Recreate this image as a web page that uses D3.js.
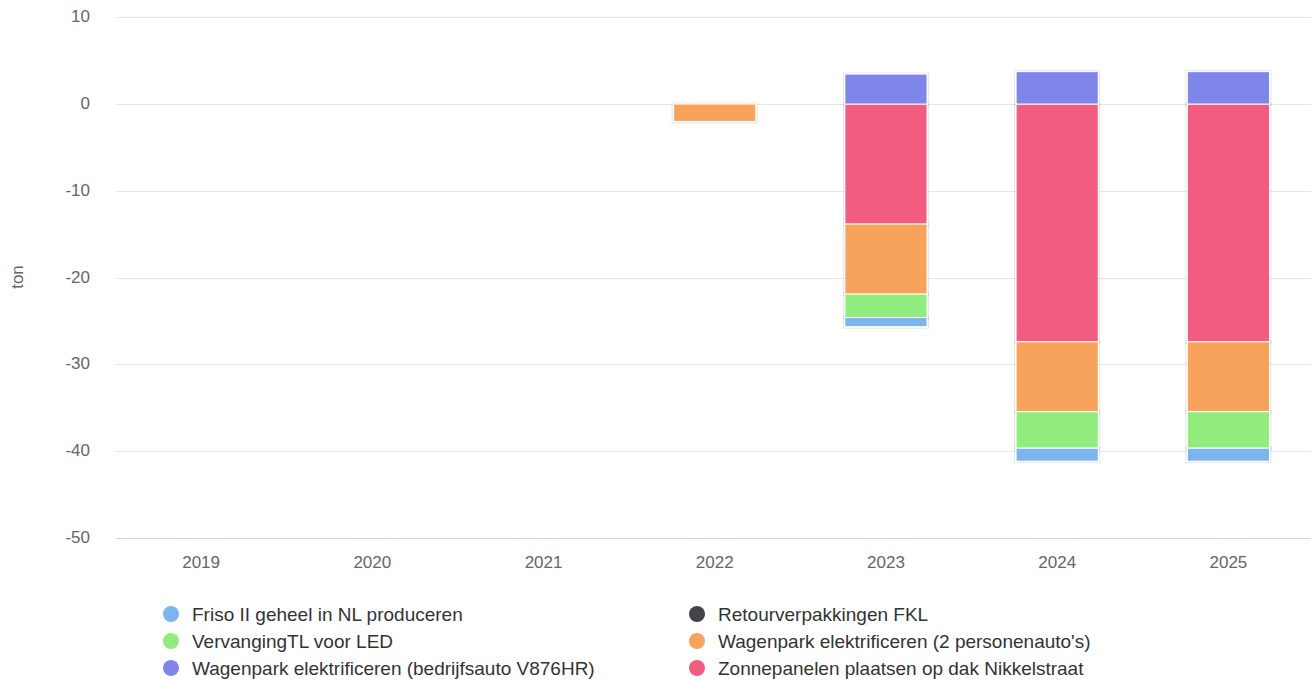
<!DOCTYPE html>
<html><head><meta charset="utf-8">
<script src="https://cdn.jsdelivr.net/npm/d3@7"></script>
<style>body{margin:0;background:#fff;}svg{display:block;font-family:"Liberation Sans",Arial,sans-serif;}</style>
</head><body>
<svg id="chart" width="1311" height="681"></svg>
<script>
const categories = ["2019","2020","2021","2022","2023","2024","2025"];
const seriesNames = ["Friso II geheel in NL produceren","Retourverpakkingen FKL","VervangingTL voor LED","Wagenpark elektrificeren (2 personenauto's)","Wagenpark elektrificeren (bedrijfsauto V876HR)","Zonnepanelen plaatsen op dak Nikkelstraat"];
const seriesColors = ["#7cb5ec","#434348","#90ed7d","#f7a35c","#8085e9","#f15c80"];
const friso = [0,0,0,0,-1.05,-1.5,-1.5];
const retour = [0,0,0,0,0,0,0];
const ledTL = [0,0,0,0,-2.7,-4.2,-4.2];
const wagen2 = [0,0,0,-2.0,-8.07,-8.05,-8.05];
const wagenBedrijf = [0,0,0,0,3.45,3.73,3.73];
const zonnepanelen = [0,0,0,0,-13.83,-27.4,-27.4];
const seriesValues = [friso, retour, ledTL, wagen2, wagenBedrijf, zonnepanelen];
const yTicks = [10,0,-10,-20,-30,-40,-50];

(function(){
const svg = d3.select("#chart");
const pLeft = 116, pRight = 1311, pTop = 17.25, pBottom = 538;
const x = d3.scaleBand().domain(categories).range([115.5,1314]).paddingInner(0).paddingOuter(0);
const y = d3.scaleLinear().domain([-50,10]).range([pBottom,pTop]);

// gridlines
svg.append("g").selectAll("line").data(yTicks.filter(t=>t!==-50)).join("line")
  .attr("x1",pLeft).attr("x2",pRight).attr("y1",d=>Math.round(y(d))+0.5).attr("y2",d=>Math.round(y(d))+0.5)
  .attr("stroke","#e6e6e6").attr("stroke-width",1);

// y axis labels
const yAxis = d3.axisLeft(y).tickValues(yTicks).tickSize(0).tickPadding(0).tickFormat(d=>String(d));
const ya = svg.append("g").attr("transform",`translate(${pLeft-26},-1)`).call(yAxis);
ya.select(".domain").remove();
ya.selectAll("text").attr("font-size",17).attr("fill","#666").attr("font-family","Liberation Sans, Arial, sans-serif");

// y title
svg.append("text").attr("transform","translate(23,277) rotate(-90)").attr("text-anchor","middle")
  .attr("font-size",17).attr("fill","#666").text("ton");

// stacking: later series closer to zero
const n = categories.length;
const bw = x.bandwidth()*0.6*0.8;
const bars = [];
for (let c=0;c<n;c++){
  let pos=0, neg=0;
  for (let s=seriesValues.length-1;s>=0;s--){
    const v = seriesValues[s][c];
    if (!v) continue;
    let y0,y1;
    if (v>0){y0=pos;y1=pos+v;pos=y1;} else {y0=neg;y1=neg+v;neg=y1;}
    bars.push({c:categories[c],s,y0,y1});
  }
}
const gBars = svg.append("g");
gBars.selectAll("rect.sh").data(bars).join("rect").attr("class","sh")
  .attr("x",d=>x(d.c)+(x.bandwidth()-bw)/2-1.5)
  .attr("y",d=>Math.min(y(d.y0),y(d.y1))-1)
  .attr("width",bw+3)
  .attr("height",d=>Math.abs(y(d.y0)-y(d.y1))+2.5)
  .attr("fill","none").attr("stroke","#000").attr("stroke-opacity",0.1).attr("stroke-width",1);
gBars.selectAll("rect.b").data(bars).join("rect").attr("class","b")
  .attr("x",d=>x(d.c)+(x.bandwidth()-bw)/2)
  .attr("y",d=>Math.min(y(d.y0),y(d.y1)))
  .attr("width",bw)
  .attr("height",d=>Math.abs(y(d.y0)-y(d.y1)))
  .attr("fill",d=>seriesColors[d.s]).attr("stroke","#fff").attr("stroke-width",1);

// x axis
svg.append("line").attr("x1",pLeft).attr("x2",pRight).attr("y1",pBottom+0.5).attr("y2",pBottom+0.5)
  .attr("stroke","#ccd6eb").attr("stroke-width",1);
const xAxis = d3.axisBottom(x).tickSize(0).tickPadding(0);
const xa = svg.append("g").attr("transform",`translate(0,${pBottom+18})`).call(xAxis);
xa.select(".domain").remove();
xa.selectAll("text").attr("font-size",17).attr("fill","#666").attr("dy","0.71em").attr("y",0)
  .attr("font-family","Liberation Sans, Arial, sans-serif");

// legend
const legendPos = [[171,614],[697,614],[171,641],[697,641],[171,668],[697,668]];
const lg = svg.append("g").selectAll("g").data(seriesNames).join("g")
  .attr("transform",(d,i)=>`translate(${legendPos[i][0]},${legendPos[i][1]})`);
lg.append("circle").attr("r",8).attr("fill",(d,i)=>seriesColors[i]);
lg.append("text").attr("x",21).attr("dy","0.35em").attr("font-size",19).attr("fill","#333").text(d=>d);
})();
</script>
</body></html>
